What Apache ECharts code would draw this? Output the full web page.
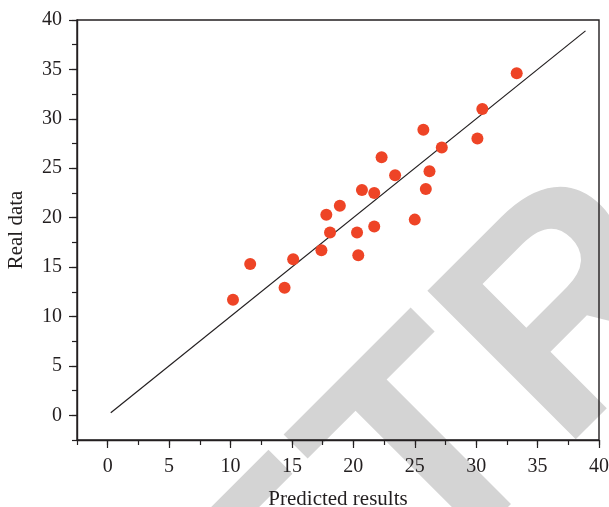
<!DOCTYPE html>
<html>
<head>
<meta charset="utf-8">
<script src="https://cdn.jsdelivr.net/npm/echarts@6/dist/echarts.min.js"></script>
<style>html,body{margin:0;padding:0;background:#fff;}#c{width:609px;height:507px;}</style>
</head>
<body>
<div id="c"></div>
<script>
// Data
const predicted = [10.2, 11.6, 14.4, 15.1, 17.4, 17.8, 18.1, 18.9, 20.4, 20.3, 20.7, 21.7, 21.7, 22.3, 23.4, 25.0, 25.9, 26.2, 27.2, 25.7, 30.1, 30.5, 33.3];
const real      = [11.7, 15.3, 12.9, 15.8, 16.7, 20.3, 18.5, 21.2, 16.2, 18.5, 22.8, 22.5, 19.1, 26.1, 24.3, 19.8, 22.9, 24.7, 27.1, 28.9, 28.0, 31.0, 34.6];
const refLineX = [0.25, 38.9];
const refLineY = [0.25, 38.9];
const xTicks = [0, 5, 10, 15, 20, 25, 30, 35, 40];
const yTicks = [0, 5, 10, 15, 20, 25, 30, 35, 40];
const xName = 'Predicted results';
const yName = 'Real data';
const watermark = 'RETRACTED';

const axisColor = '#231f20';
const font = '"Liberation Serif", "Times New Roman", serif';

function minorAxis(extra) {
  return Object.assign({
    type: 'value', min: -2.5, max: 40, interval: 2.5,
    axisLine: { show: true, onZero: false, lineStyle: { color: axisColor, width: 1.4 } },
    axisTick: { show: true, inside: false, length: 5, lineStyle: { color: axisColor, width: 1.2 } },
    axisLabel: { show: false },
    splitLine: { show: false }
  }, extra);
}
function majorAxis(ticks, margin, extra) {
  return Object.assign({
    type: 'value', min: -2.5, max: 40,
    axisLine: { show: false, onZero: false },
    axisTick: { show: true, inside: false, length: 8, customValues: ticks, lineStyle: { color: axisColor, width: 1.2 } },
    axisLabel: { show: true, customValues: ticks, margin: margin, color: '#231f20', fontFamily: font, fontSize: 20 },
    splitLine: { show: false }
  }, extra);
}

const chart = echarts.init(document.getElementById('c'), null, { renderer: 'canvas' });
chart.setOption({
  animation: false,
  backgroundColor: '#ffffff',
  grid: { left: 77, right: 10, top: 20, bottom: 67, show: true, borderColor: axisColor, borderWidth: 1.4, backgroundColor: 'transparent', containLabel: false, outerBoundsMode: 'none' },
  graphic: [{
    type: 'text', x: 70.5, y: 825.5, rotation: Math.PI / 4, z: -100, silent: true,
    style: { text: watermark, font: 'bold 305px "Liberation Sans", Arial, sans-serif', fill: '#d4d4d4', align: 'left', verticalAlign: 'middle' }
  }],
  xAxis: [
    minorAxis({ position: 'bottom', name: xName, nameLocation: 'middle', nameGap: 49, nameTextStyle: { color: '#231f20', fontFamily: font, fontSize: 21 } }),
    majorAxis(xTicks, 17, { position: 'bottom' })
  ],
  yAxis: [
    minorAxis({ position: 'left', name: yName, nameLocation: 'middle', nameGap: 50, nameTextStyle: { color: '#231f20', fontFamily: font, fontSize: 21 } }),
    majorAxis(yTicks, 15, { position: 'left' })
  ],
  series: [
    {
      type: 'line', xAxisIndex: 0, yAxisIndex: 0,
      data: refLineX.map((x, i) => [x, refLineY[i]]),
      showSymbol: false, symbol: 'none',
      lineStyle: { color: '#231f20', width: 1.2 }, z: 2
    },
    {
      type: 'scatter', xAxisIndex: 0, yAxisIndex: 0,
      data: predicted.map((x, i) => [x, real[i]]),
      symbol: 'circle', symbolSize: 12,
      itemStyle: { color: '#ee4426', opacity: 1 }, z: 3
    }
  ]
});
</script>
</body>
</html>
